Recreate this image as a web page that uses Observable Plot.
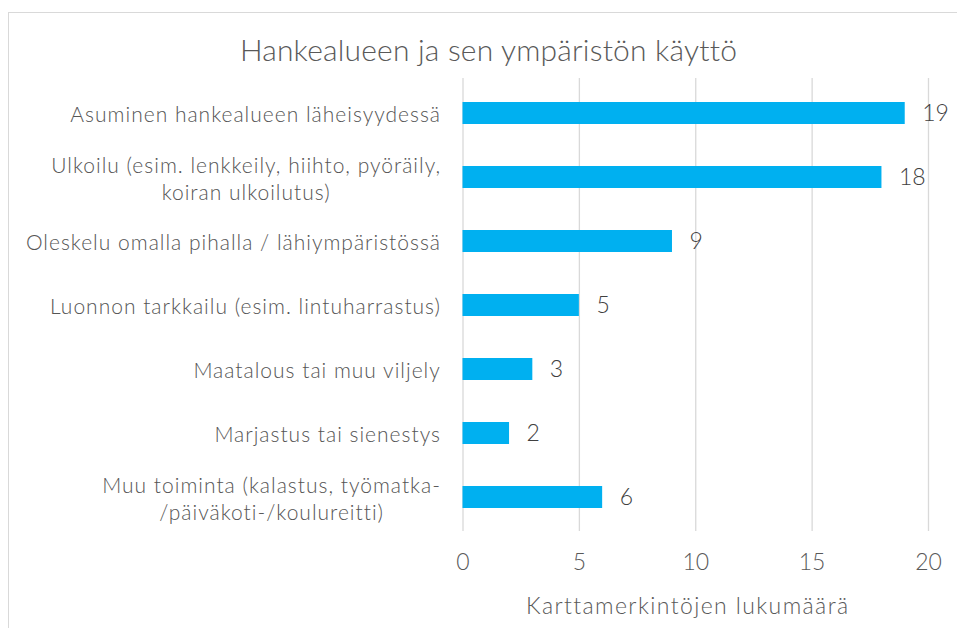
<!DOCTYPE html>
<html>
<head>
<meta charset="utf-8">
<script src="https://cdn.jsdelivr.net/npm/d3@7"></script>
<script src="https://cdn.jsdelivr.net/npm/@observablehq/plot@0.6"></script>
<style>
  html, body { margin: 0; padding: 0; background: #fff; }
  #wrap { position: relative; width: 957px; height: 628px; overflow: hidden; background: #fff; font-family: Lato, "Open Sans", sans-serif; }
  #frame { position: absolute; left: 8px; top: 12px; width: 1000px; height: 700px; border: 1px solid #d9d9d9; box-sizing: border-box; }
  #title { position: absolute; left: 0; width: 977px; top: 31px; text-align: center; font-size: 30px; font-weight: 300; letter-spacing: 0.2px; line-height: 36px; color: #595959; }
  #chart { position: absolute; left: 0; top: 70px; }
  #chart svg text { font-weight: 300; }
  .lbl text { letter-spacing: 1px; }
  .xl text { letter-spacing: 1.4px; }
</style>
</head>
<body>
<div id="wrap">
  <div id="frame"></div>
  <div id="title">Hankealueen ja sen ympäristön käyttö</div>
  <div id="chart"></div>
</div>
<script>
const categories = [
  "Asuminen hankealueen läheisyydessä",
  "Ulkoilu (esim. lenkkeily, hiihto, pyöräily,\nkoiran ulkoilutus)",
  "Oleskelu omalla pihalla / lähiympäristössä",
  "Luonnon tarkkailu (esim. lintuharrastus)",
  "Maatalous tai muu viljely",
  "Marjastus tai sienestys",
  "Muu toiminta (kalastus, työmatka-\n/päiväkoti-/koulureitti)"
];
const values = [19, 18, 9, 5, 3, 2, 6];
const xTicks = [0, 5, 10, 15, 20];
const xLabel = "Karttamerkintöjen lukumäärä";

const data = categories.map((c, i) => ({category: c, value: values[i]}));

const canvas = document.createElement("canvas");
const ctx = canvas.getContext("2d");
ctx.font = "300 21px Lato";
try { ctx.letterSpacing = "1px"; } catch (e) {}
const blockWidth = c => Math.max(...c.split("\n").map(l => ctx.measureText(l).width));

const labelMarks = data.map(d =>
  Plot.text([d], {
    x: () => 0,
    y: "category",
    text: "category",
    textAnchor: "middle",
    lineAnchor: "middle",
    lineHeight: 1.32,
    dx: -(22 + blockWidth(d.category) / 2),
    fontSize: 21,
    fill: "#555555",
    className: "lbl"
  })
);

const chart = Plot.plot({
  width: 957,
  height: 558,
  marginLeft: 462.5,
  marginRight: 29,
  marginTop: 8,
  marginBottom: 97,
  style: {fontFamily: "Lato, 'Open Sans', sans-serif", color: "#595959", background: "transparent"},
  x: {domain: [0, 20], ticks: xTicks},
  y: {domain: categories, paddingInner: 0.66, paddingOuter: 0.33, axis: null},
  marks: [
    Plot.gridX(xTicks, {stroke: "#d9d9d9", strokeOpacity: 1, strokeWidth: 1.3}),
    Plot.axisX({ticks: xTicks, tickSize: 0, tickPadding: 22, fontSize: 23, label: null, fill: "#595959"}),
    Plot.barX(data, {x: "value", y: "category", fill: "#00b0f0"}),
    Plot.text(data, {x: "value", y: "category", text: d => String(d.value), textAnchor: "start", dx: 17, fontSize: 23, fill: "#404040"}),
    ...labelMarks,
    Plot.text([xLabel], {frameAnchor: "bottom", text: d => d, dy: 75, dx: -8, lineAnchor: "middle", fontSize: 23, fill: "#595959", className: "xl"})
  ]
});
document.getElementById("chart").appendChild(chart);
</script>
</body>
</html>
